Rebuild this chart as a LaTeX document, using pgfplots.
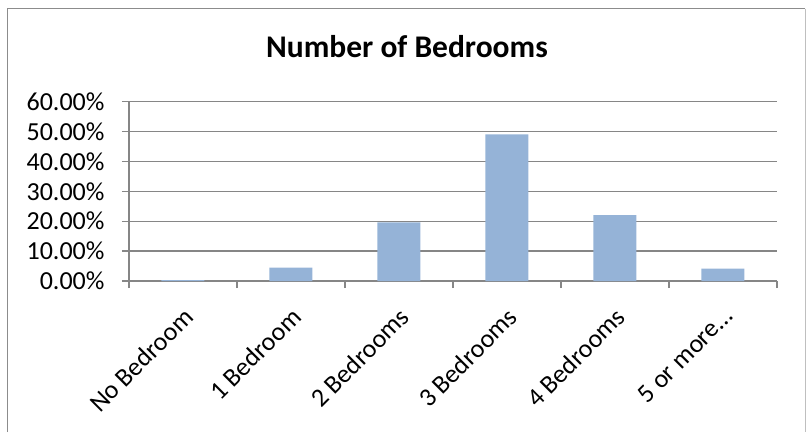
\documentclass[border=0pt]{standalone}
\usepackage{pgfplots}
\pgfplotsset{compat=1.18}
\usepackage{fontspec}
\setmainfont{Carlito}
\definecolor{barblue}{HTML}{95B3D7}
\definecolor{gridgray}{HTML}{868686}
\definecolor{framegray}{HTML}{8C8C8C}
\begin{document}
\begin{tikzpicture}
\path[use as bounding box] (-129pt,-151pt) rectangle (677pt,281pt);
\draw[framegray, line width=1.5pt] (-121.5pt,-151pt) -- (-121.5pt,272.5pt) -- (676pt,272.5pt);
\draw[black!25, line width=1pt] (676pt,272.5pt) -- (676pt,-151pt);
\begin{axis}[
  at={(0pt,0pt)}, anchor=south west,
  scale only axis, width=648pt, height=179.5pt,
  xmin=-0.5, xmax=5.5, ymin=0, ymax=60,
  axis x line*=bottom, axis y line*=left,
  axis line style={gridgray, line width=1.3pt, -},
  ytick={0,10,...,60},
  ymajorgrids, grid style={gridgray, line width=1.3pt},
  tick align=outside, major tick length=7pt,
  tick style={gridgray, line width=1.3pt},
  xtick={-0.5,0.5,...,5.5}, xticklabels={},
  extra x ticks={0,1,2,3,4,5},
  extra x tick labels={No Bedroom,1 Bedroom,2 Bedrooms,3 Bedrooms,4 Bedrooms,5 or more\dots},
  extra x tick style={major tick length=0pt, grid=none,
    xticklabel style={font=\fontsize{26}{28}\selectfont, yshift=-25pt, xshift=-1pt, rotate=45, anchor=north east, inner sep=0pt}},
  /pgf/number format/assume math mode=true,
  yticklabel={\pgfmathprintnumber[fixed,fixed zerofill,precision=2]{\tick}\%},
  yticklabel style={font=\fontsize{26}{28}\selectfont, xshift=-14pt},
  ybar, bar width=43pt,
]
\addplot[fill=barblue, draw=none] coordinates {(0,0.3) (1,4.45) (2,19.6) (3,49.0) (4,22.0) (5,4.1)};
\end{axis}
\node[anchor=base, font=\fontsize{31.5}{33}\selectfont\bfseries] at (278pt,224pt) {Number of Bedrooms};
\end{tikzpicture}
\end{document}
